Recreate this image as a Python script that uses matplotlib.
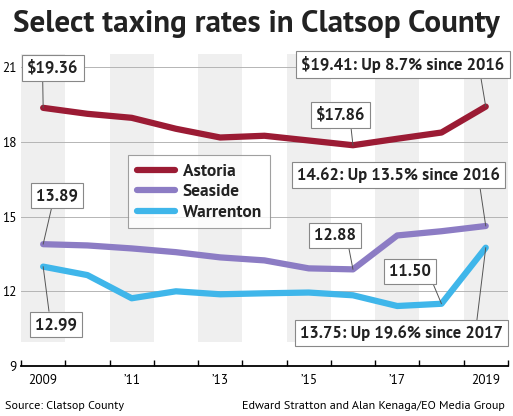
import numpy as np
import matplotlib
matplotlib.use("Agg")
import matplotlib.pyplot as plt

plt.rcParams['font.family'] = ['PT Sans', 'DejaVu Sans']

# data
years = [2009, 2010, 2011, 2012, 2013, 2014, 2015, 2016, 2017, 2018, 2019]
astoria = [19.36, 19.12, 18.96, 18.52, 18.17, 18.24, 18.05, 17.86, 18.12, 18.37, 19.41]
seaside = [13.89, 13.84, 13.72, 13.57, 13.36, 13.24, 12.92, 12.88, 14.24, 14.41, 14.62]
warrenton = [12.99, 12.65, 11.72, 12.00, 11.88, 11.92, 11.95, 11.84, 11.41, 11.50, 13.75]
tick_labels = ["2009", "\u201911", "\u201913", "\u201915", "\u201917", "2019"]

colors = {"Astoria": "#9b1b34", "Seaside": "#8c7cc4", "Warrenton": "#3fb6ea"}

fig = plt.figure(figsize=(5.13, 4.16), dpi=100)
ax = fig.add_axes([0.041, 0.12, 0.949, 0.749])
ax.set_xlim(2008.5, 2019.5)
ax.set_ylim(9, 21.5)

# alternating bands
for yr in years[::2]:
    ax.fill_between([yr - 0.5, yr + 0.5], 9.95, 21.5, color="#efefef", lw=0, zorder=0)

for y in [12, 15, 18, 21]:
    ax.axhline(y, color="#b5b5b5", lw=0.7, zorder=1)

for name, vals in [("Astoria", astoria), ("Seaside", seaside), ("Warrenton", warrenton)]:
    ax.plot(years, vals, color=colors[name], lw=4.5, solid_capstyle="round",
            solid_joinstyle="round", label=name, zorder=3)

# axes styling
for s in ["left", "top", "right"]:
    ax.spines[s].set_visible(False)
ax.spines["bottom"].set_linewidth(1.3)
ax.set_xticks(np.arange(2008.5, 2020, 1))
ax.set_xticklabels([])
ax.tick_params(axis="x", which="major", direction="in", length=4, width=1)
ax.set_xticks(years[::2], minor=True)
ax.set_xticklabels(tick_labels, minor=True, fontsize=9.5)
ax.tick_params(axis="x", which="minor", length=0, pad=6)
ax.set_yticks([9, 12, 15, 18, 21])
ax.set_yticklabels(["9", "12", "15", "18", "21"], fontsize=9.5)
ax.tick_params(axis="y", length=0, pad=3)

# callouts
box = dict(boxstyle="square,pad=0.3", fc="white", ec="#888888", lw=0.8)
notes = [
    ("$19.36", 0, astoria[0], 2009.22, 20.96, (0.3, 0)),
    ("$19.41: Up 8.7% since 2016", 10, astoria[10], 2017.13, 21.08, (0.88, 0)),
    ("$17.86", 7, astoria[7], 2015.72, 19.08, (0.7, 0)),
    ("14.62: Up 13.5% since 2016", 10, seaside[10], 2017.02, 16.68, (0.9, 0)),
    ("12.88", 7, seaside[7], 2015.6, 14.24, (0.8, 0)),
    ("13.89", 0, seaside[0], 2009.31, 15.84, (0.4, 0)),
    ("12.99", 0, warrenton[0], 2009.29, 10.68, (0.35, 1)),
    ("11.50", 9, warrenton[9], 2017.29, 12.8, (1.0, 0)),
    ("13.75: Up 19.6% since 2017", 10, warrenton[10], 2017.09, 10.32, (0.87, 1)),
]
for txt, i, yv, tx, ty, rp in notes:
    ax.annotate(txt.replace("$", r"\$"), xy=(years[i], yv), xytext=(tx, ty),
                ha="center", va="center", fontsize=12, fontweight="bold",
                color="#222222", bbox=box, zorder=5,
                arrowprops=dict(arrowstyle="-", color="#555555", lw=0.7,
                                relpos=rp, shrinkA=0, shrinkB=0))

leg = ax.legend(loc="upper left", bbox_to_anchor=(0.22, 0.677), prop={"size": 12.5, "weight": "bold"},
                frameon=True, fancybox=False, edgecolor="#888888",
                handlelength=2.2, handletextpad=0.45, labelspacing=0.3,
                borderpad=0.5, borderaxespad=0)
leg.get_frame().set_linewidth(0.8)
for t in leg.get_texts():
    t.set_color("#222222")

fig.text(0.5, 0.923, "Select taxing rates in Clatsop County", ha="center", va="baseline",
         fontsize=22.4, fontweight="bold", color="#222222")
fig.text(0.01, 0.025, "Source: Clatsop County", ha="left", va="center", fontsize=8.7)
fig.text(0.985, 0.025, "Edward Stratton and Alan Kenaga/EO Media Group", ha="right",
         va="center", fontsize=8.7)

fig.savefig("out.png", dpi=100)
